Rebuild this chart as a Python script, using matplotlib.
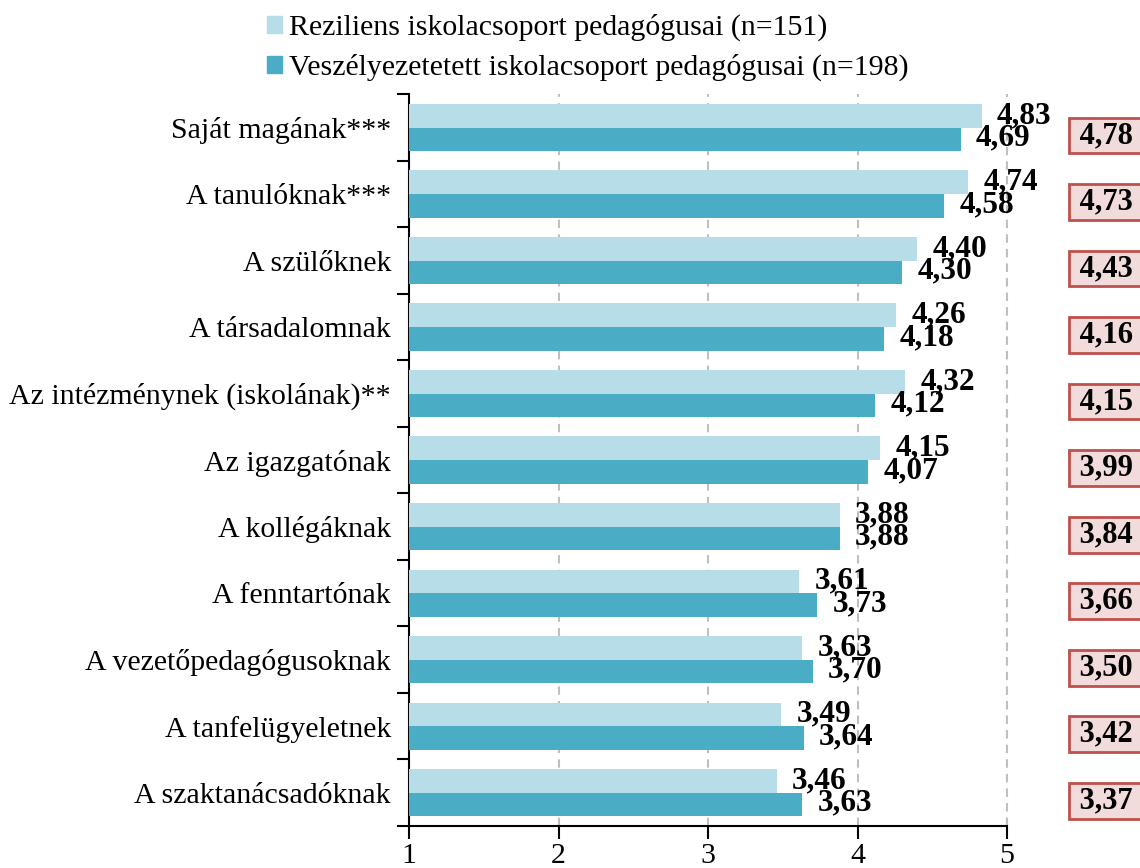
import matplotlib
matplotlib.use("Agg")
import matplotlib.pyplot as plt
from matplotlib.patches import Patch
import numpy as np

# adatok
kategoriak = ["Saját magának***", "A tanulóknak***", "A szülőknek", "A társadalomnak",
              "Az intézménynek (iskolának)**", "Az igazgatónak", "A kollégáknak",
              "A fenntartónak", "A vezetőpedagógusoknak", "A tanfelügyeletnek",
              "A szaktanácsadóknak"]
reziliens = [4.83, 4.74, 4.40, 4.26, 4.32, 4.15, 3.88, 3.61, 3.63, 3.49, 3.46]
veszelyeztetett = [4.69, 4.58, 4.30, 4.18, 4.12, 4.07, 3.88, 3.73, 3.70, 3.64, 3.63]
osszes = [4.78, 4.73, 4.43, 4.16, 4.15, 3.99, 3.84, 3.66, 3.50, 3.42, 3.37]
nevek = ["Reziliens iskolacsoport pedagógusai (n=151)",
         "Veszélyezetetett iskolacsoport pedagógusai (n=198)"]
szinek = ["#b7dde8", "#4bacc6"]

plt.rcParams["font.family"] = ["Liberation Serif", "DejaVu Serif"]
plt.rcParams["font.size"] = 21.5

fig = plt.figure(figsize=(11.4, 8.68), dpi=100)
ax = fig.add_axes([409 / 1140, 1 - 826 / 868, (1007 - 409) / 1140, (826 - 94.3) / 868])

y = np.arange(len(kategoriak))
h = 0.356
ax.barh(y - h / 2, np.array(reziliens) - 1, left=1, height=h, color=szinek[0], zorder=3)
ax.barh(y + h / 2, np.array(veszelyeztetett) - 1, left=1, height=h, color=szinek[1], zorder=3)

def fmt(v):
    return f"{v:.2f}".replace(".", ",")

for i in range(len(kategoriak)):
    ax.annotate(fmt(reziliens[i]), (reziliens[i], y[i] - h / 2), xytext=(11, 0),
                textcoords="offset points", va="center", ha="left",
                fontweight="bold", fontsize=22.5, zorder=5)
    ax.annotate(fmt(veszelyeztetett[i]), (veszelyeztetett[i], y[i] + h / 2), xytext=(11, 1),
                textcoords="offset points", va="center", ha="left",
                fontweight="bold", fontsize=22.5, zorder=5)
    # osszesitett atlag kerettel, jobb szelen
    ax.annotate(" " + fmt(osszes[i]) + "  ", (1072 / 1140, y[i] + 0.12),
                xycoords=("figure fraction", "data"), ha="left", va="center",
                fontweight="bold", fontsize=22, annotation_clip=False,
                bbox=dict(boxstyle="square,pad=0.11", fc="#f2dcdb", ec="#c0504d", lw=2))

ax.set_xlim(1, 5)
ax.set_ylim(len(kategoriak) - 0.5, -0.5)
ax.set_xticks([1, 2, 3, 4, 5])
ax.set_yticks(y)
ax.set_yticklabels(kategoriak)
ax.set_yticks(np.arange(-0.5, len(kategoriak)), minor=True)
ax.tick_params(axis="y", which="major", length=0, pad=13)
ax.tick_params(axis="y", which="minor", length=9, width=1.5, direction="out")
ax.tick_params(axis="x", length=9, width=1.5, direction="out", pad=3)
ax.xaxis.grid(True, color="#bfbfbf", linestyle=(0, (4, 3)), linewidth=1.5, zorder=0)
for s in ["top", "right"]:
    ax.spines[s].set_visible(False)
ax.spines["left"].set_linewidth(1.5)
ax.spines["bottom"].set_linewidth(1.5)
ax.plot([5, 5], [len(kategoriak) - 0.5, -0.5], color="#bfbfbf", linestyle=(0, (4, 3)),
        linewidth=1.5, zorder=0, clip_on=False)

handles = [Patch(color=c) for c in szinek]
fig.legend(handles, nevek, loc="upper left", bbox_to_anchor=(267 / 1140, 1 - 14 / 868),
           frameon=False, borderpad=0, borderaxespad=0, handlelength=0.5,
           handleheight=0.5, handletextpad=0.25, labelspacing=0.42, fontsize=21.5)

fig.savefig("out.png", dpi=100)
